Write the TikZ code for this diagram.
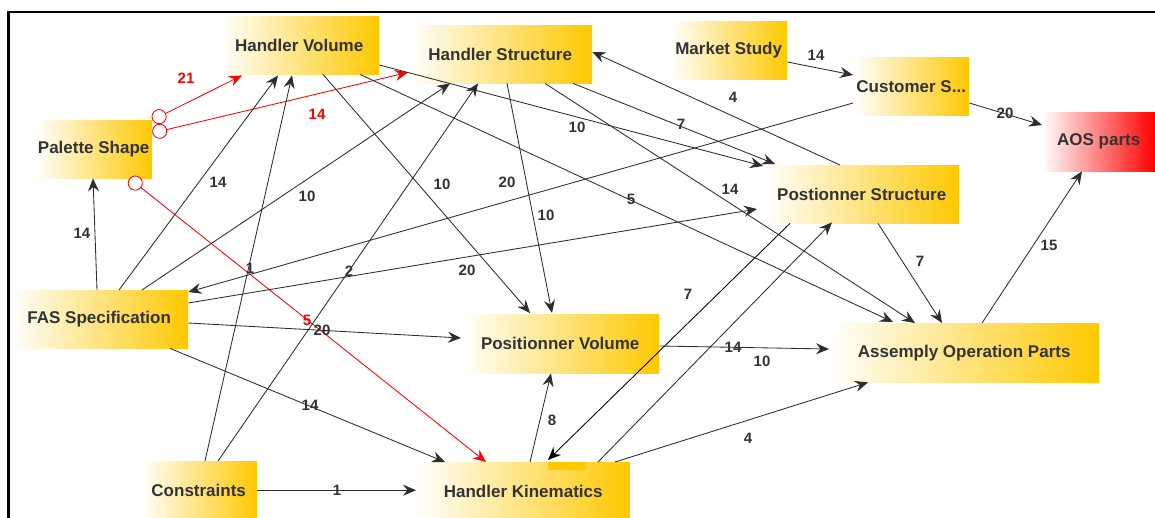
\documentclass[tikz,border=0pt]{standalone}
\usepackage{fontspec}
\setmainfont{Liberation Sans}
\usetikzlibrary{arrows.meta,calc}
\definecolor{gold}{RGB}{255,200,0}
\definecolor{txt}{RGB}{51,51,51}
\definecolor{ln}{RGB}{45,45,45}
\begin{document}
\begin{tikzpicture}[x=1pt,y=-1pt,
 box/.style={draw=none,anchor=north west,minimum height=58pt,inner sep=0pt,left color=white,right color=gold,text=txt,font=\fontsize{17}{17}\selectfont\bfseries},
 e/.style={draw=ln,line width=0.85pt,-{Stealth[length=13pt,width=11pt,inset=4.5pt]}},
 re/.style={draw=red,line width=0.85pt,{Circle[fill=white,length=15pt,width=15pt,line width=0.85pt]}-{Stealth[length=13pt,width=11pt,inset=4.5pt]}},
 lbl/.style={text=txt,font=\fontsize{15}{15}\selectfont\bfseries,inner sep=0pt},
 rlbl/.style={lbl,text=red}]
\useasboundingbox (0,0) rectangle (1155,518);
\fill[white] (0,0) rectangle (1155,518);
\draw[line width=2.4pt] (8.5,520) -- (8.5,12) -- (1157,12);

% nodes
\node[box,minimum width=117pt] (pal) at (35,120) {Palette Shape};
\node[box,minimum width=160pt] (hv) at (219,16) {Handler Volume};
\node[box,minimum width=184pt] (hs) at (408,25) {Handler Structure};
\node[box,minimum width=117pt] (ms) at (670,21) {Market Study};
\node[box,minimum width=116pt] (cs) at (853,57) {Customer S...};
\node[box,minimum width=113pt,minimum height=59pt,right color=red] (aos) at (1042,112) {AOS parts};
\node[box,minimum width=195pt] (ps) at (764,165) {Postionner Structure};
\node[box,minimum width=178pt] (fas) at (10,290) {FAS Specification};
\node[box,minimum width=117pt] (cons) at (140,461) {Constraints};
\node[box,minimum width=198pt,minimum height=59pt] (pv) at (461,314) {Positionner Volume};
\node[box,minimum width=214pt] (hk) at (416,462) {Handler Kinematics};
\node[box,minimum width=270pt,minimum height=59pt] (aop) at (829,323) {Assemply Operation Parts};
\fill[gold] ($(hk.north west)+(132,0)$) rectangle ($(hk.north west)+(170,8)$);

% connectors
\draw[re] (pal.north east) -- ($(hv.south west)+(23,1)$);
\draw[re] ($(pal.north east)+(0,13)$) -- ($(hs.south west)+(0,-11)$);
\draw[re] ($(pal.south east)+(-23,0)$) -- ($(hk.north west)+(70,0)$);
\draw[e] ($(fas.north west)+(87,0)$) -- ($(pal.south west)+(58,0)$);
\draw[e] ($(fas.north west)+(109,0)$) -- ($(hv.south west)+(59,1)$);
\draw[e] ($(fas.north west)+(132,0)$) -- ($(hs.south west)+(42,0)$);
\draw[e] ($(cons.north west)+(65,0)$) -- ($(hv.south west)+(73,1)$);
\draw[e] ($(cons.north west)+(78,0)$) -- ($(hs.south west)+(70,0)$);
\draw[e] ($(hv.south west)+(104,0)$) -- ($(pv.north west)+(69,-1)$);
\draw[e] ($(hv.north east)+(0,49)$) -- ($(ps.north west)+(-1,1)$);
\draw[e] ($(hv.south west)+(141,0)$) -- ($(aop.north west)+(64,-1)$);
\draw[e] ($(hs.south west)+(99,0)$) -- ($(pv.north west)+(91,-1)$);
\draw[e] ($(hs.south west)+(137,0)$) -- ($(aop.north west)+(86,0)$);
\draw[e] ($(hs.south west)+(165,0)$) -- ($(ps.north west)+(11,-1)$);
\draw[e] ($(ps.north west)+(76,0)$) -- ($(hs.north east)+(0,27)$);
\draw[e] ($(ms.north east)+(0,41)$) -- ($(cs.north west)+(0,18)$);
\draw[e] ($(cs.north east)+(0,46)$) -- ($(aos.north west)+(0,13)$);
\draw[e] ($(cs.north west)+(0,46)$) -- ($(fas.north east)+(0,2)$);
\draw[e] ($(fas.north east)+(0,13)$) -- ($(ps.north west)+(-7,44)$);
\draw[e] ($(fas.north east)+(0,33)$) -- ($(pv.north west)+(0,24)$);
\draw[e] ($(fas.south west)+(160,0)$) -- ($(hk.north west)+(29,0)$);
\draw[e] (cons.east) -- (cons.east -| hk.west);
\draw[e] ($(hk.north west)+(114,0)$) -- ($(pv.south west)+(90,0)$);
\draw[e] ($(hk.north west)+(199,0)$) -- ($(aop.south west)+(39,0)$);
\draw[e] ($(hk.north west)+(182,0)$) -- ($(ps.south west)+(68,-1)$);
\draw[e] ($(pv.north east)+(0,32)$) -- ($(aop.north west)+(0,26)$);
\draw[e] ($(ps.south west)+(114,0)$) -- ($(aop.north west)+(113,0)$);
\draw[e] ($(aop.north west)+(153,0)$) -- ($(aos.south west)+(40,0)$);
\draw[e,draw=black] ($(ps.south west)+(26,0)$) -- ($(hk.north west)+(132,-2)$);

% labels
\node[rlbl] (l1) at (186,78) {21};
\node[rlbl] (l2) at (317,114) {14};
\node[rlbl] (l3) at (307,320) {5};
\node[lbl] (l4) at (82,233) {14};
\node[lbl] (l5) at (218,182) {14};
\node[lbl] (l6) at (307,196) {10};
\node[lbl] (l7) at (442,184) {10};
\node[lbl] (l8) at (507,182) {20};
\node[lbl] (l9) at (546,215) {10};
\node[lbl] (l10) at (631,199) {5};
\node[lbl] (l11) at (577,127) {10};
\node[lbl] (l12) at (681,124) {7};
\node[lbl] (l13) at (733,97) {4};
\node[lbl] (l14) at (816,55) {14};
\node[lbl] (l15) at (1005,113) {20};
\node[lbl] (l16) at (730,189) {14};
\node[lbl] (l17) at (920,261) {7};
\node[lbl] (l18) at (1049,245) {15};
\node[lbl] (l19) at (467,270) {20};
\node[lbl] (l20) at (250,268) {1};
\node[lbl] (l21) at (349,271) {2};
\node[lbl] (l22) at (688,294) {7};
\node[lbl] (l23) at (322,330) {20};
\node[lbl] (l24) at (733,347) {14};
\node[lbl] (l25) at (762,361) {10};
\node[lbl] (l26) at (552,420) {8};
\node[lbl] (l27) at (748,438) {4};
\node[lbl] (l28) at (310,405) {14};
\node[lbl] (l29) at (337,490) {1};
\end{tikzpicture}
\end{document}
